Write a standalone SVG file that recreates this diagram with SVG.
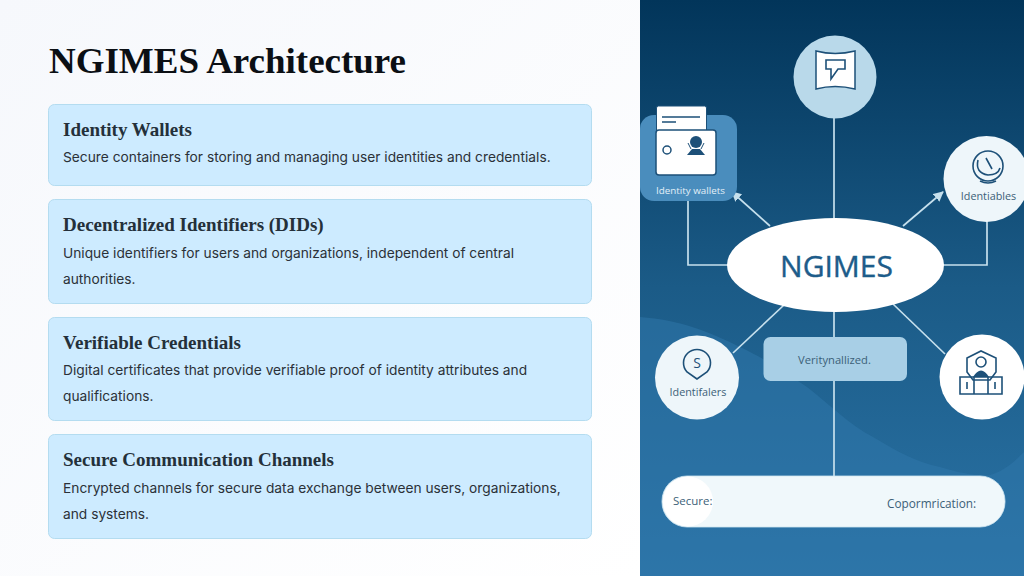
<svg xmlns="http://www.w3.org/2000/svg" width="1024" height="576" viewBox="0 0 1024 576">
<style>
.card{fill:#cdebff;stroke:#b4dcf0;stroke-width:1}
.h{font-family:"Liberation Serif",serif;font-weight:700;font-size:19px;fill:#24303a}
.b{font-family:Inter,"Liberation Sans",sans-serif;font-size:13.750px;fill:#2b3138}
.c{stroke:#c6e0ed;stroke-width:1.700;fill:none}
.a{marker-end:url(#arr)}
.l{font-family:"Open Sans","Liberation Sans",sans-serif;fill:#3c5f78}
.ic{fill:none;stroke:#1d5078;stroke-width:1.600}
</style>
<defs>
<linearGradient id="bg" x1="0" y1="0" x2="0" y2="1"><stop offset="0" stop-color="#02355a"/><stop offset=".5" stop-color="#1b5b87"/><stop offset="1" stop-color="#2a73a6"/></linearGradient>
<linearGradient id="lft" x1="0" y1="0" x2="1" y2="1"><stop offset="0" stop-color="#f6f8fc"/><stop offset="1" stop-color="#ffffff"/></linearGradient>
<marker id="arr" markerWidth="12" markerHeight="12" refX="9" refY="5" orient="auto" markerUnits="userSpaceOnUse"><path d="M0 0L10 5L0 10Z" fill="#c6e0ed"/></marker>
</defs>
<rect width="640" height="576" fill="url(#lft)"/>
<text x="49" y="73" font-family="Liberation Serif,serif" font-weight="700" font-size="36" fill="#0b0f14" textLength="357" lengthAdjust="spacingAndGlyphs">NGIMES Architecture</text>
<g id="card1"><rect class="card" x="48.500" y="104.500" width="543" height="81" rx="6"/><text class="h" x="63" y="135.500">Identity Wallets</text><text class="b" x="63" y="162">Secure containers for storing and managing user identities and credentials.</text></g>
<g id="card2"><rect class="card" x="48.500" y="199.500" width="543" height="104" rx="6"/><text class="h" x="63" y="230.500">Decentralized Identifiers (DIDs)</text><text class="b" x="63" y="258">Unique identifiers for users and organizations, independent of central</text><text class="b" x="63" y="284">authorities.</text></g>
<g id="card3"><rect class="card" x="48.500" y="317.500" width="543" height="103" rx="6"/><text class="h" x="63" y="348.500">Verifiable Credentials</text><text class="b" x="63" y="375">Digital certificates that provide verifiable proof of identity attributes and</text><text class="b" x="63" y="401">qualifications.</text></g>
<g id="card4"><rect class="card" x="48.500" y="434.500" width="543" height="104" rx="6"/><text class="h" x="63" y="465.500">Secure Communication Channels</text><text class="b" x="63" y="493">Encrypted channels for secure data exchange between users, organizations,</text><text class="b" x="63" y="519">and systems.</text></g>
<rect x="640" width="384" height="576" fill="url(#bg)"/>
<path d="M640 317C680 320 710 332 740 347C765 359 785 372 807 387C830 405 850 425 873 437C895 450 915 462 940 467C960 473 975 476 990 475C1003 472 1014 462 1024 452V576H640Z" fill="#2f78ab" fill-opacity=".5"/>
<g id="connectors">
<path class="c" d="M834 118V476"/>
<path class="c" d="M688 200V265H728"/>
<path class="c" d="M987 220V265H943"/>
<path class="c a" d="M770 226L732 192"/>
<path class="c a" d="M903 226L943 192"/>
<path class="c" d="M784 305L733 353"/>
<path class="c" d="M893 304L945 354"/>
</g>
<g id="node-top"><circle cx="835" cy="77" r="41.500" fill="#b9d9ea"/><path d="M816 51Q835 56 855 51V89Q835 84 816 89Z" fill="#fff" stroke="#1d5078" stroke-width="1.500"/><path d="M826 60H845V69H838L831 79V69H826Z" fill="none" stroke="#1d5078" stroke-width="1.600"/></g>
<g id="node-wallets"><rect x="640" y="115" width="97" height="86" rx="14" fill="#4a8dbd"/><rect x="656.500" y="106" width="50" height="30" rx="2" fill="#fff" stroke="#1d5078" stroke-width="1"/><path d="M662 117H700M662 122H676" stroke="#1d5078" stroke-width="1.500"/><rect x="656" y="130" width="60" height="45" rx="3" fill="#fff" stroke="#1d5078" stroke-width="1.500"/><circle cx="667" cy="150" r="4" fill="none" stroke="#1d5078" stroke-width="1.500"/><circle cx="696" cy="142" r="6" fill="#1d5078"/><path d="M687 155H705L700 149H692Z" fill="#1d5078"/><path d="M688 143L691 149M704 143L701 149" stroke="#1d5078" stroke-width="1"/><text x="690.500" y="194" text-anchor="middle" font-family="Open Sans,sans-serif" font-size="9.800" fill="#e3f0f8">Identity wallets</text></g>
<g id="node-identiables"><circle cx="986.500" cy="179" r="43" fill="#eef6fa"/><circle cx="988" cy="166" r="15" class="ic"/><path d="M978 160Q975 173 988 175Q998 175 1000 168M986 158L992 169M980 181Q988 185 996 181" class="ic"/><text x="988.500" y="200" text-anchor="middle" class="l" font-size="10.800">Identiables</text></g>
<g id="node-ngimes"><ellipse cx="835.500" cy="265" rx="108.500" ry="47" fill="#fff"/><text x="836.500" y="277" text-anchor="middle" font-family="Open Sans,sans-serif" font-size="30" fill="#1d5c8a" stroke="#1d5c8a" stroke-width=".4">NGIMES</text></g>
<g id="node-identifalers"><circle cx="697" cy="377.500" r="42" fill="#eef6fa"/><path d="M697 379L687 372A13.500 13.500 0 1 1 707 372Z" class="ic"/><text x="697" y="368" text-anchor="middle" font-family="Open Sans,sans-serif" font-size="14" fill="#1d5078">S</text><text x="698" y="396" text-anchor="middle" class="l" font-size="10.800">Identifalers</text></g>
<g id="node-verify"><rect x="763.500" y="337" width="143.500" height="44" rx="7" fill="#a8cfe6"/><text x="834.500" y="364" text-anchor="middle" class="l" font-size="11.200">Veritynallized.</text></g>
<g id="node-right"><circle cx="982" cy="377" r="42.500" fill="#fff"/><path d="M967 358L981 351L996 358V372L990 380H973L967 372Z" class="ic"/><circle cx="981" cy="362" r="5" class="ic"/><path d="M973 377Q981 364 989 377Z" fill="#1d5078"/><path d="M960 377H1002V394H960ZM974 377V394M988 377V394M967 382V389M995 382V389" class="ic"/></g>
<g id="node-bar"><rect x="662" y="476" width="343" height="51" rx="25" fill="#f0f8fb" stroke="#cfe6f1" stroke-width=".8"/><circle cx="688" cy="501.500" r="25" fill="#fff"/><text x="673" y="505" class="l" font-size="11.500">Secure:</text><text x="887" y="508" class="l" font-size="11.800">Copormrication:</text></g>
</svg>
